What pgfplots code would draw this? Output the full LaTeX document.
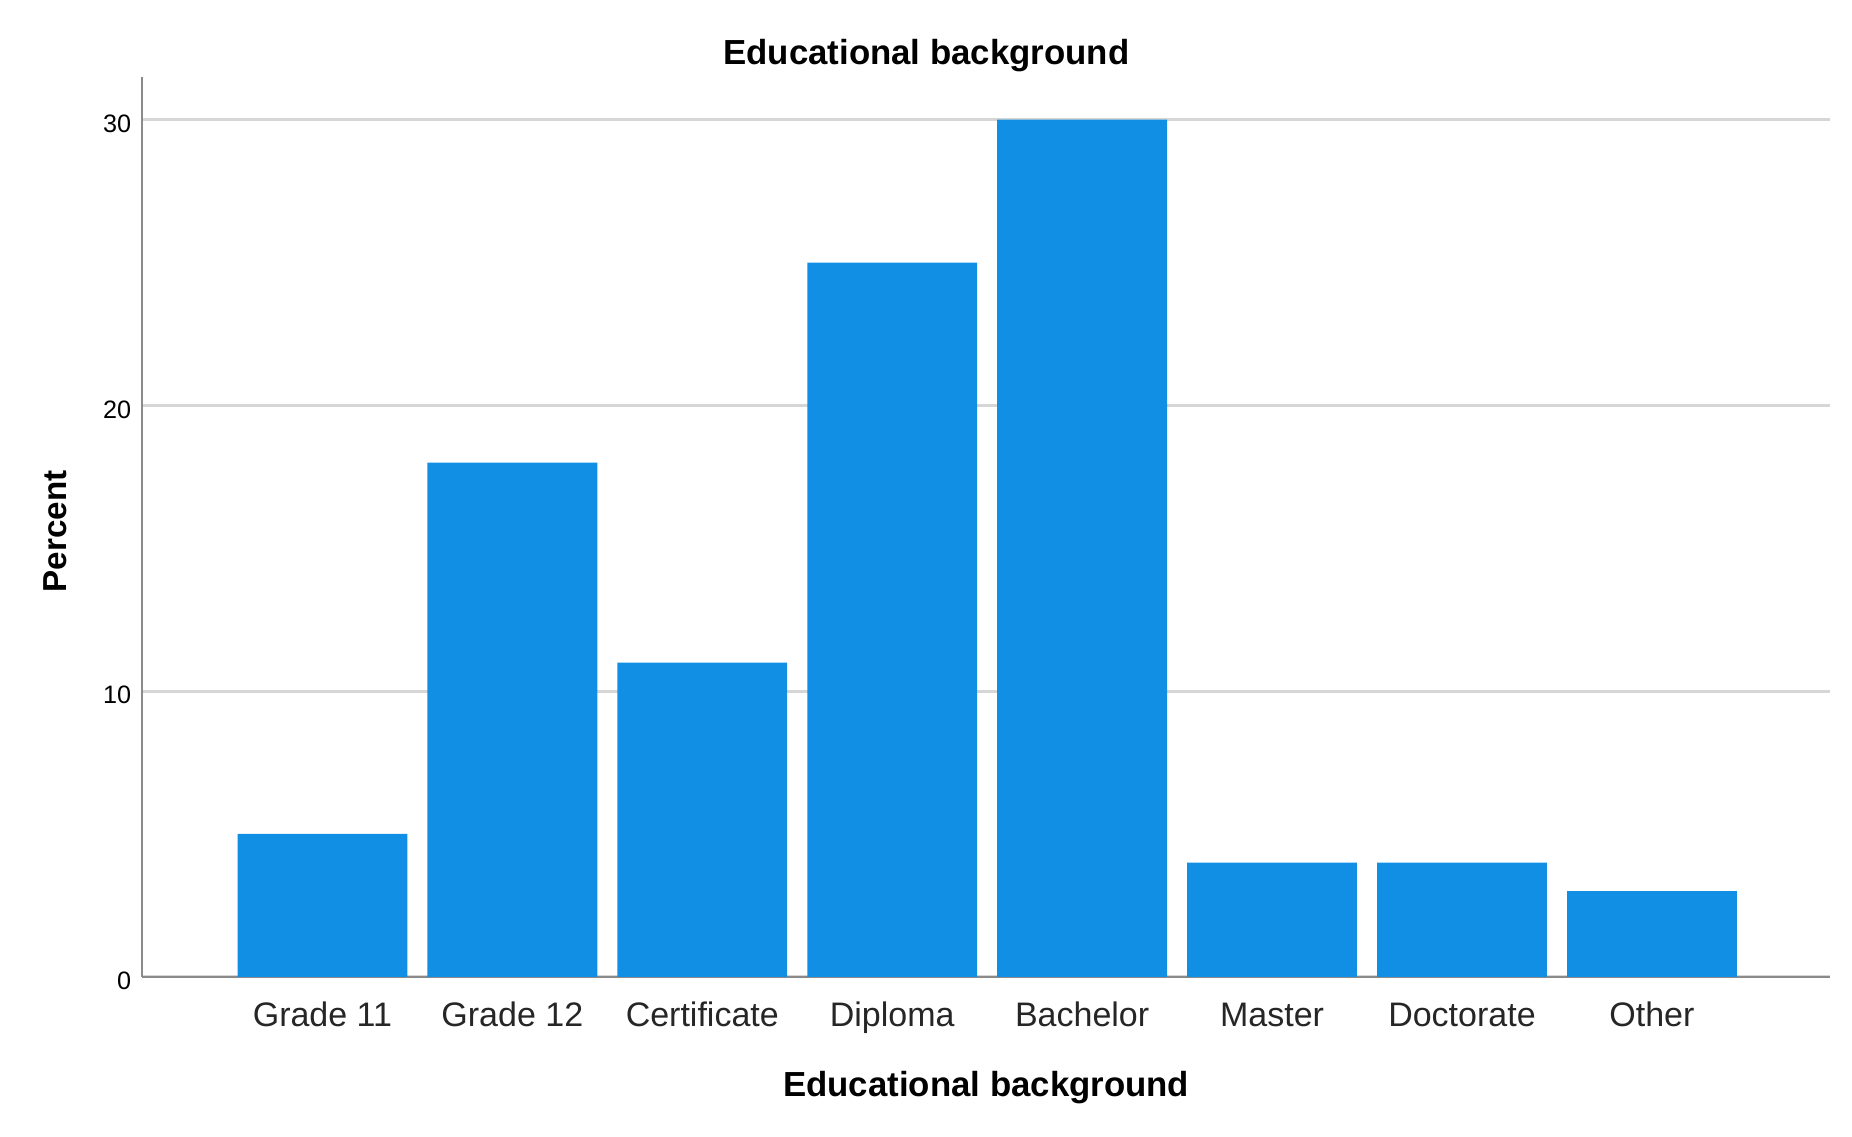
\documentclass[border=0pt]{standalone}
\usepackage{fontspec}
\setmainfont{Liberation Sans}
\usepackage{pgfplots}
\pgfplotsset{compat=1.18}
\definecolor{barblue}{RGB}{17,143,229}
\definecolor{axgray}{RGB}{138,138,138}
\definecolor{gridgray}{RGB}{214,214,214}
\begin{document}
\begin{tikzpicture}
\useasboundingbox (-35.5pt,-39.8pt) rectangle (427.5pt,244.2pt);
\begin{axis}[
  at={(0pt,0pt)}, anchor=south west,
  scale only axis, width=422.1pt, height=225pt,
  xmin=-0.95, xmax=7.94, ymin=0, ymax=31.5,
  axis lines*=left,
  axis line style={axgray, line width=0.6pt},
  ybar, bar width=0.894,
  ytick={0,10,20,30},
  xtick={0,1,2,3,4,5,6,7},
  xticklabels={Grade 11, Grade 12, Certificate, Diploma, Bachelor, Master, Doctorate, Other},
  major tick length=0pt,
  ymajorgrids, grid style={gridgray, line width=0.75pt},
  /pgf/number format/assume math mode=true,
  yticklabel style={font=\fontsize{6.3}{7}\selectfont, anchor=east, inner sep=0pt, xshift=-2.5pt, yshift=-1pt},
  xticklabel style={font=\fontsize{8.5}{10}\selectfont, anchor=base, inner sep=0pt, yshift=-12.4pt, text=black!85},
  every axis title shift=0pt,
  title={Educational background},
  title style={font=\bfseries\fontsize{8.7}{10}\selectfont, at={(axis description cs:0.4646,1.0133)}, anchor=base, inner sep=0pt, yshift=0pt},
  xlabel={Educational background},
  xlabel style={font=\bfseries\fontsize{8.7}{10}\selectfont, at={(axis description cs:0.5,-0.1333)}, anchor=base, inner sep=0pt},
  ylabel={Percent},
  ylabel style={font=\bfseries\fontsize{8.3}{10}\selectfont, at={(axis description cs:-0.0512,0.495)}, anchor=center, rotate=0, inner sep=0pt},
]
\addplot[fill=barblue, draw=none] coordinates {(0,5) (1,18) (2,11) (3,25) (4,30) (5,4) (6,4) (7,3)};
\end{axis}
\end{tikzpicture}
\end{document}
